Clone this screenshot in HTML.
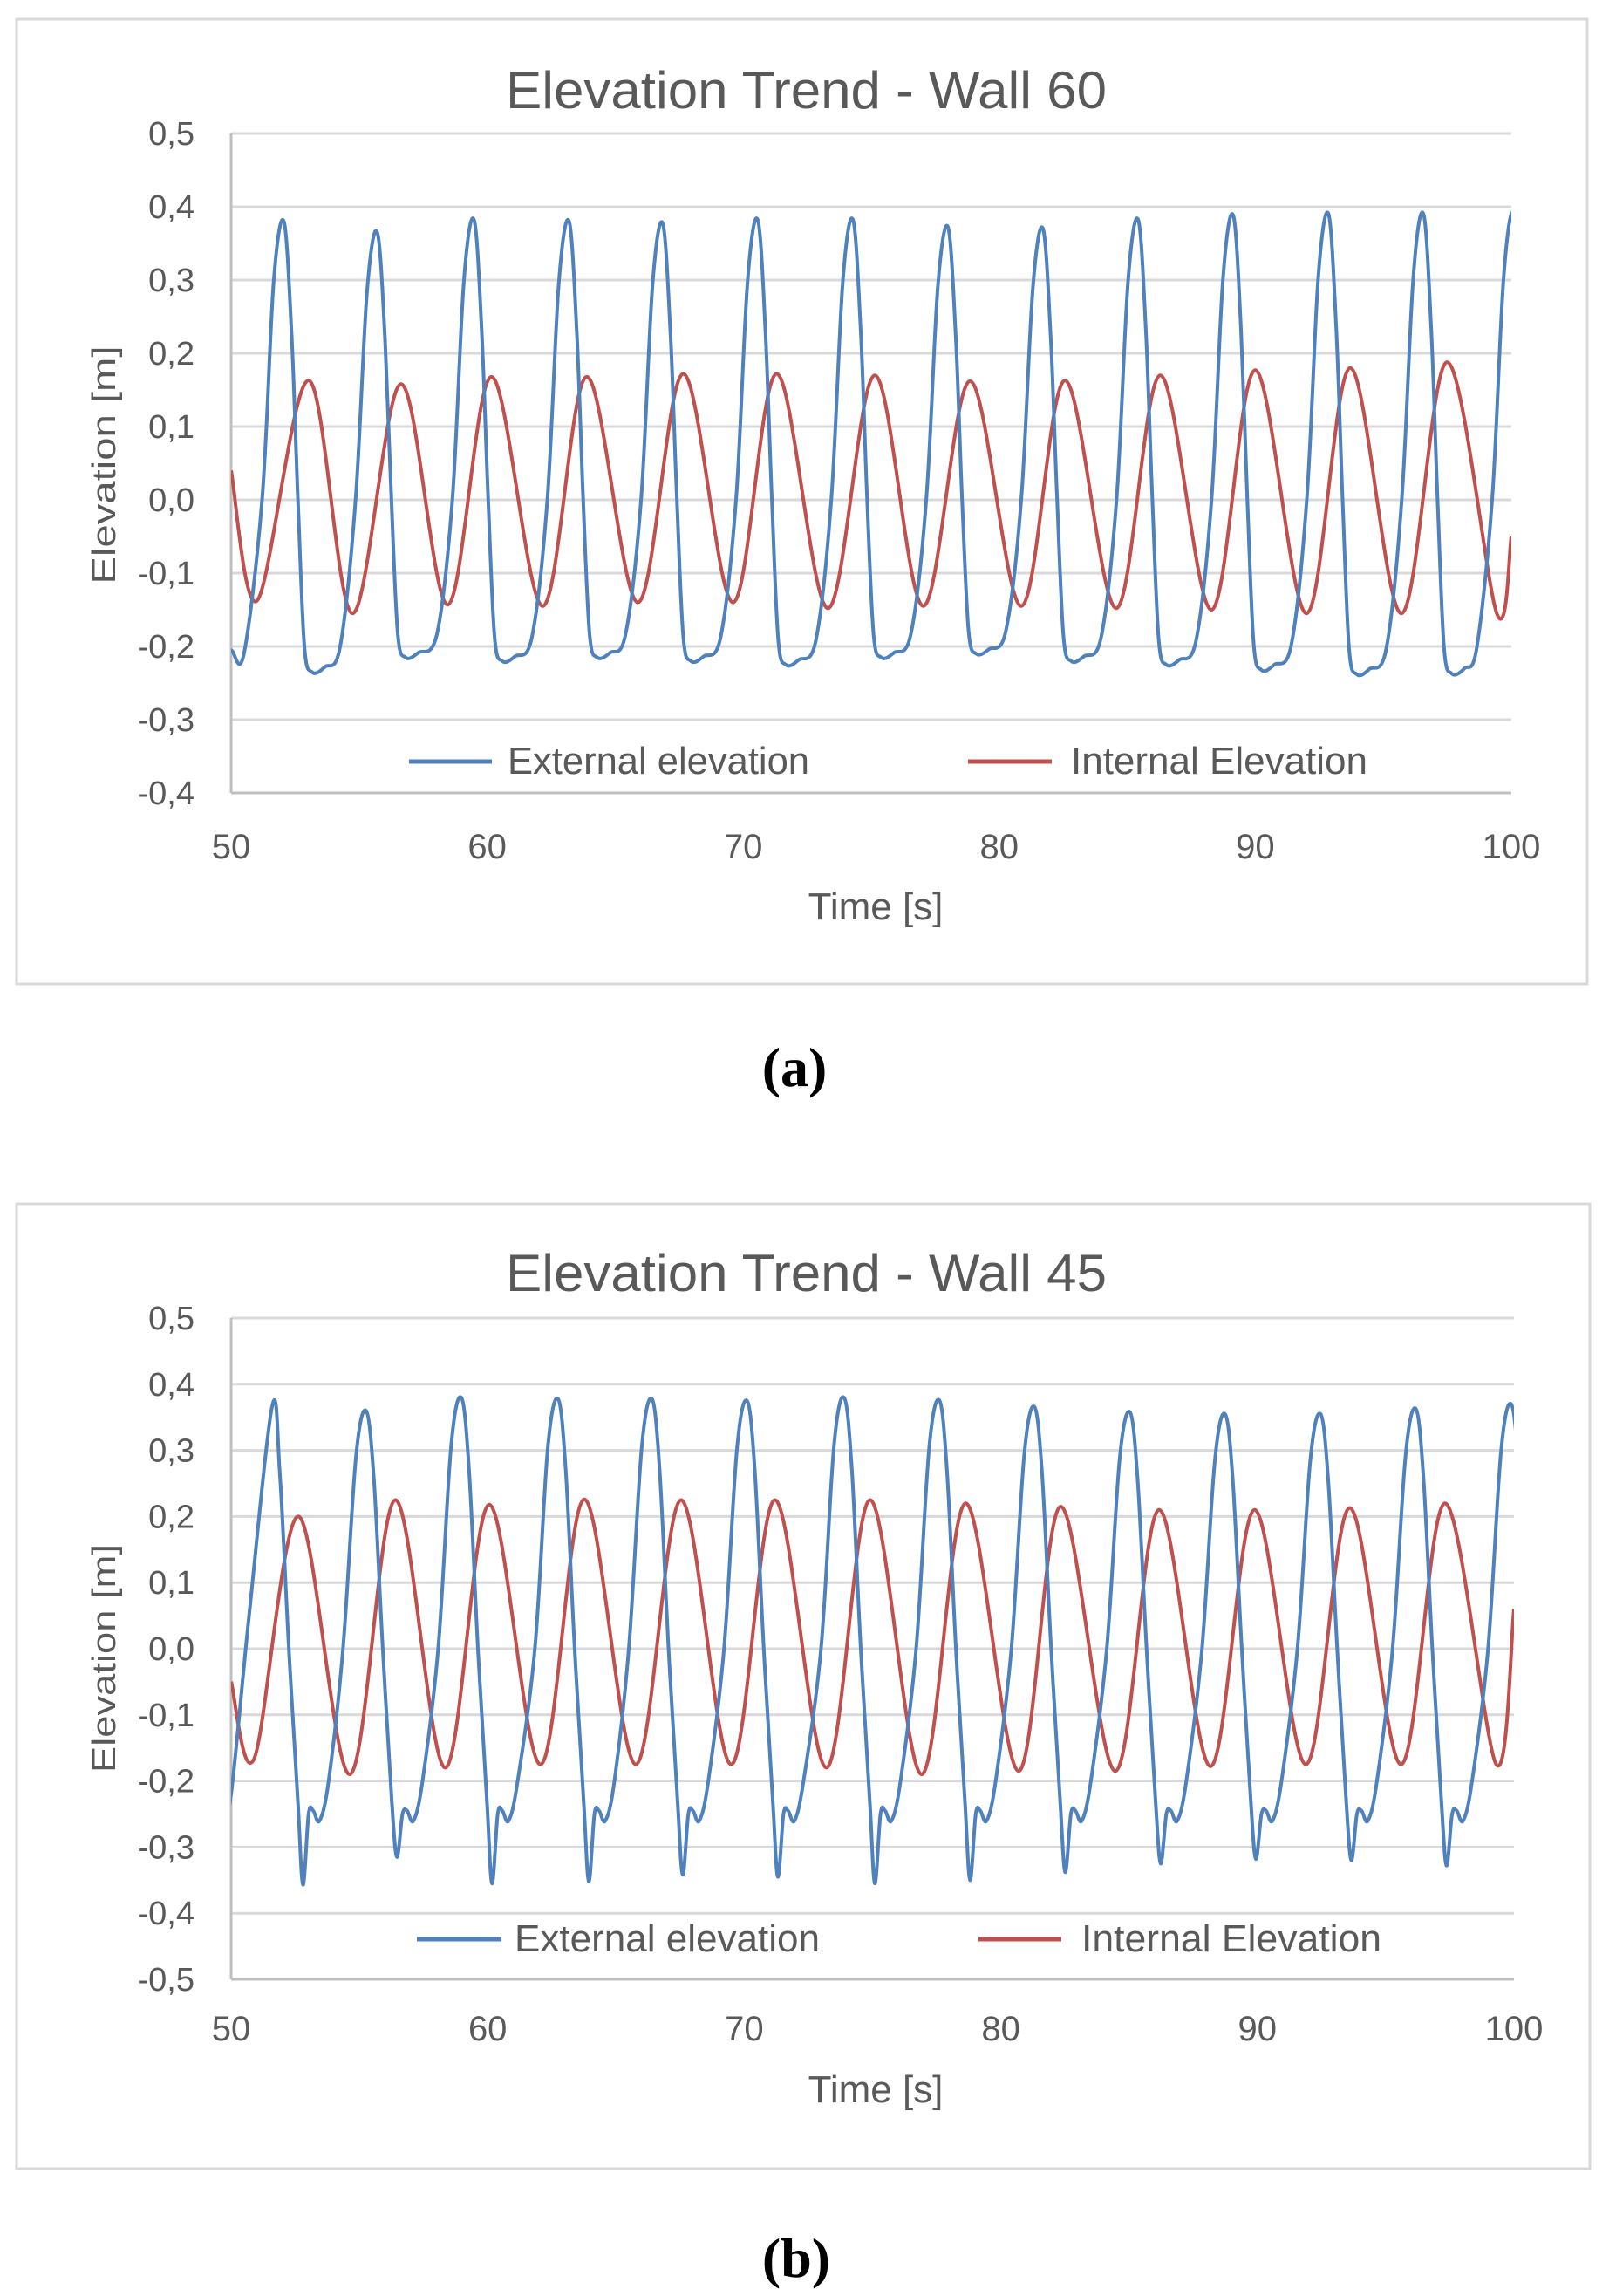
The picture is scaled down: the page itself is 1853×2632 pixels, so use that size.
<!DOCTYPE html>
<html><head><meta charset="utf-8">
<style>
html,body{margin:0;padding:0;background:#fff;}
svg{display:block;}
text{font-family:"Liberation Sans Narrow","Liberation Sans",sans-serif;fill:#595959;}
.cap{font-family:"Liberation Serif",serif;fill:#000;font-weight:bold;}
</style></head>
<body>
<svg id="fig" width="1853" height="2632" viewBox="0 0 1853 2632" xmlns="http://www.w3.org/2000/svg"></svg>
<script>
// ---------- Chart A (Wall 60) data ----------
const aExtPeakT = [52.06,55.71,59.49,63.2,66.86,70.57,74.29,78.0,81.71,85.43,89.14,92.86,96.57,100.1];
const aExtPeakV = [0.38,0.365,0.382,0.38,0.377,0.382,0.382,0.372,0.37,0.382,0.388,0.39,0.39,0.39];
const aExtTrough = [-0.235,-0.215,-0.22,-0.215,-0.22,-0.225,-0.215,-0.21,-0.22,-0.225,-0.232,-0.238,-0.237,-0.235];
const aExtStart = -0.205;
const aIntExtT = [50,51.03,53.03,54.74,56.63,58.46,60.17,62.17,63.89,65.89,67.66,69.6,71.31,73.31,75.14,77.03,78.86,80.86,82.57,84.57,86.29,88.29,90.0,92.0,93.71,95.71,97.49,99.43,100];
const aIntExtV = [0.04,-0.137,0.163,-0.155,0.158,-0.143,0.168,-0.145,0.168,-0.14,0.172,-0.14,0.172,-0.148,0.17,-0.145,0.162,-0.145,0.163,-0.148,0.17,-0.15,0.177,-0.155,0.18,-0.155,0.188,-0.155,-0.05];
// ---------- Chart B (Wall 45) data ----------
const bExtPeakT = [51.6,55.26,58.97,62.74,66.4,70.11,73.89,77.6,81.31,85.03,88.74,92.46,96.17,99.89];
const bExtPeakV = [0.367,0.36,0.38,0.378,0.378,0.375,0.38,0.376,0.366,0.358,0.355,0.355,0.363,0.37];
const bExtMin = [-0.357,-0.315,-0.355,-0.352,-0.342,-0.345,-0.355,-0.35,-0.338,-0.325,-0.318,-0.32,-0.328,-0.33];
const bExtStart = -0.22;
const bIntExtT = [50,50.91,52.63,54.63,56.4,58.34,60.06,62.06,63.77,65.77,67.54,69.49,71.2,73.2,74.91,76.91,78.63,80.69,82.34,84.46,86.17,88.17,89.89,91.89,93.6,95.6,97.31,99.31,100];
const bIntExtV = [-0.05,-0.165,0.2,-0.19,0.225,-0.18,0.218,-0.175,0.226,-0.175,0.225,-0.175,0.225,-0.18,0.225,-0.19,0.22,-0.185,0.215,-0.185,0.21,-0.178,0.21,-0.175,0.213,-0.175,0.22,-0.175,0.06];
// ---------- ticks ----------
const xTicks = [50,60,70,80,90,100];
const aYTicks = [0.5,0.4,0.3,0.2,0.1,0.0,-0.1,-0.2,-0.3,-0.4];
const bYTicks = [0.5,0.4,0.3,0.2,0.1,0.0,-0.1,-0.2,-0.3,-0.4,-0.5];

const NS="http://www.w3.org/2000/svg";
const svg=document.getElementById('fig');
function mk(tag,attrs,parent){const e=document.createElementNS(NS,tag);for(const k in attrs)e.setAttribute(k,attrs[k]);(parent||svg).appendChild(e);return e;}
function fmt(v){return v.toFixed(1).replace('.',',');}

function spline(pts){
  let d='M'+pts[0][0].toFixed(1)+','+pts[0][1].toFixed(1);
  for(let i=0;i<pts.length-1;i++){
    const p0=pts[Math.max(0,i-1)],p1=pts[i],p2=pts[i+1],p3=pts[Math.min(pts.length-1,i+2)];
    const c1x=p1[0]+(p2[0]-p0[0])/6,c1y=p1[1]+(p2[1]-p0[1])/6;
    const c2x=p2[0]-(p3[0]-p1[0])/6,c2y=p2[1]-(p3[1]-p1[1])/6;
    d+=' C'+c1x.toFixed(1)+','+c1y.toFixed(1)+' '+c2x.toFixed(1)+','+c2y.toFixed(1)+' '+p2[0].toFixed(1)+','+p2[1].toFixed(1);
  }
  return d;
}

function chart(cfg){
  const g=mk('g',{});
  
  
  const box=mk('rect',{x:cfg.box[0],y:cfg.box[1],width:cfg.box[2]-cfg.box[0],height:cfg.box[3]-cfg.box[1],fill:'#fff',stroke:'#d9d9d9','stroke-width':3},g);
  
  
  const X=t=>cfg.x0+(t-50)/50*(cfg.x1-cfg.x0);
  const Y=v=>cfg.y0+(cfg.yMax-v)/(cfg.yMax-cfg.yMin)*(cfg.y1-cfg.y0);
  const t=mk('text',{x:cfg.titleX,y:cfg.titleY,'font-size':60,textLength:689,lengthAdjust:'spacingAndGlyphs'},g);
  t.textContent=cfg.title;
  
  
  cfg.yTicks.forEach(v=>{
    const l=mk('line',{x1:cfg.x0,x2:cfg.x1,y1:Y(v),y2:Y(v),stroke:(v===cfg.yMin)?'#bfbfbf':'#d9d9d9','stroke-width':3},g);
    
    
    const tx=mk('text',{x:223,y:Y(v)+13,'font-size':38,'text-anchor':'end'},g);
    tx.textContent=fmt(v);
    
    
  });
  const ax=mk('line',{x1:cfg.x0,x2:cfg.x0,y1:cfg.y0,y2:cfg.y1,stroke:'#bfbfbf','stroke-width':3},g);
  
  
  xTicks.forEach(v=>{
    const tx=mk('text',{x:X(v),y:cfg.xTickY,'font-size':40,'text-anchor':'middle'},g);
    tx.textContent=v;
    
    
  });
  const xl=mk('text',{x:1004,y:cfg.xLabelY,'font-size':44,'text-anchor':'middle'},g);
  xl.textContent='Time [s]';
  
  
  const yl=mk('text',{x:0,y:0,'font-size':38,'text-anchor':'middle',textLength:cfg.yLabelLen,lengthAdjust:'spacingAndGlyphs',style:'font-family:"Liberation Sans",sans-serif',transform:'translate(132,'+cfg.yLabelY+') rotate(-90)'},g);
  yl.textContent=cfg.yLabel;
  
  
  const cp=mk('clipPath',{id:cfg.name+'-clip'},g);
  mk('rect',{x:cfg.x0,y:cfg.y0-40,width:cfg.x1-cfg.x0,height:cfg.y1-cfg.y0+80},cp);
  const extPts=cfg.extPts.map(p=>[X(p[0]),Y(p[1])]);
  const intPts=cfg.intPts.map(p=>[X(p[0]),Y(p[1])]);
  const pi=mk('path',{d:spline(intPts),fill:'none',stroke:'#c0504d','stroke-width':4,'stroke-linejoin':'round','clip-path':'url(#'+cfg.name+'-clip)'},g);
  
  
  const pe=mk('path',{d:spline(extPts),fill:'none',stroke:'#4f81bd','stroke-width':4,'stroke-linejoin':'round','clip-path':'url(#'+cfg.name+'-clip)'},g);
  
  
  const lg=mk('g',{},g);
  
  
  const L=cfg.leg;
  const e1=mk('line',{x1:L.b1,x2:L.b2,y1:L.y,y2:L.y,stroke:'#4f81bd','stroke-width':5},lg);
  
  
  const t1=mk('text',{x:L.bt,y:L.y+14,'font-size':44,textLength:L.btl,lengthAdjust:'spacingAndGlyphs'},lg);
  t1.textContent='External elevation';
  
  
  const e2=mk('line',{x1:L.r1,x2:L.r2,y1:L.y,y2:L.y,stroke:'#c0504d','stroke-width':5},lg);
  
  
  const t2=mk('text',{x:L.rt,y:L.y+14,'font-size':44,textLength:L.rtl,lengthAdjust:'spacingAndGlyphs'},lg);
  t2.textContent='Internal Elevation';
  
  
  const c=mk('text',{x:cfg.capX,y:cfg.capY,'font-size':64,'text-anchor':'middle',class:'cap'},svg);
  c.textContent=cfg.cap;
  
  
}

function extA(){
  const pts=[[49.6,aExtStart],[50.0,aExtStart],[50.5,aExtStart-0.005]];
  for(let i=0;i<aExtPeakT.length;i++){
    const P=aExtPeakT[i],pk=aExtPeakV[i],tr=aExtTrough[i];
    pts.push([P-0.85,0.0],[P-0.4,pk*0.78],[P,pk],[P+0.3,pk*0.6],[P+0.55,0.0],[P+0.8,tr*0.85],[P+1.1,tr],[P+1.6,tr*0.97]);
    if(i+1<aExtPeakT.length){pts.push([aExtPeakT[i+1]-1.45,tr*0.85]);}
  }
  return pts;
}
function extB(){
  const pts=[[49.6,bExtStart-0.06],[50,bExtStart],[50.7,0.05]];
  for(let i=0;i<bExtPeakT.length;i++){
    const P=bExtPeakT[i],pk=bExtPeakV[i],mn=bExtMin[i];
    if(i>0){pts.push([P-0.9,0.0],[P-0.4,pk*0.8]);}
    pts.push([P,pk],[P+0.3,pk*0.72],[P+0.65,0.0],[P+1.0,-0.23],[P+1.2,mn],[P+1.42,-0.25],[P+1.6,-0.245],[P+1.85,-0.26],[P+2.2,-0.2]);
  }
  return pts;
}
function ptsFrom(ts,vs){return ts.map((t,i)=>[t,vs[i]]);}

chart({name:'chart-wall-60',box:[19,22,1820,1128],x0:265,x1:1733,y0:153,y1:909,yMax:0.5,yMin:-0.4,
  yTicks:aYTicks,title:'Elevation Trend - Wall 60',titleX:580,titleY:124,xTickY:984,xLabelY:1054,
  yLabel:'Elevation  [m]',yLabelY:533,yLabelLen:273,extPts:extA(),intPts:ptsFrom(aIntExtT,aIntExtV),
  leg:{y:873,b1:469,b2:564,bt:582,btl:346,r1:1110,r2:1206,rt:1228,rtl:340},cap:'(a)',capX:911,capY:1245});
chart({name:'chart-wall-45',box:[19,1380,1823,2486],x0:265,x1:1736,y0:1511,y1:2269,yMax:0.5,yMin:-0.5,
  yTicks:bYTicks,title:'Elevation Trend - Wall 45',titleX:580,titleY:1480,xTickY:2339,xLabelY:2410,
  yLabel:'Elevation [m]',yLabelY:1901,yLabelLen:262,extPts:extB(),intPts:ptsFrom(bIntExtT,bIntExtV),
  leg:{y:2223,b1:478,b2:575,bt:590,btl:350,r1:1122,r2:1217,rt:1240,rtl:344},cap:'(b)',capX:913,capY:2610});
</script>
</body></html>
